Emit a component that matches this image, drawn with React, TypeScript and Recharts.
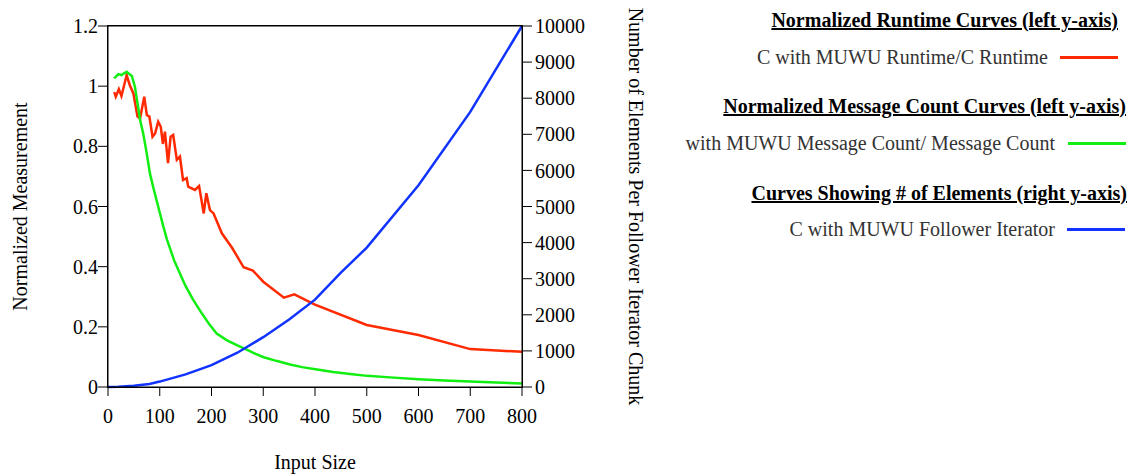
import { LineChart, Line, XAxis, YAxis } from "recharts"

const xTicks = [0, 100, 200, 300, 400, 500, 600, 700, 800]
const leftTicks = [0, 0.2, 0.4, 0.6, 0.8, 1, 1.2]
const rightTicks = [0, 1000, 2000, 3000, 4000, 5000, 6000, 7000, 8000, 9000, 10000]

// C with MUWU Runtime / C Runtime
const runtimeX = [12, 15, 21, 26, 36, 42, 49, 57, 62, 70, 75, 80, 86, 91, 97, 102, 106, 110, 116, 121, 126, 133, 139, 145, 152, 155, 168, 176, 185, 190, 197, 204, 220, 240, 262, 280, 300, 340, 360, 400, 500, 600, 700, 800]
const runtimeY = [0.98, 0.965, 0.99, 0.967, 1.037, 1.004, 0.976, 0.899, 0.893, 0.965, 0.904, 0.899, 0.832, 0.843, 0.882, 0.865, 0.808, 0.849, 0.744, 0.832, 0.838, 0.755, 0.766, 0.688, 0.694, 0.666, 0.655, 0.668, 0.577, 0.644, 0.588, 0.577, 0.511, 0.462, 0.398, 0.387, 0.35, 0.297, 0.308, 0.274, 0.206, 0.173, 0.126, 0.117]

// C with MUWU Message Count / Message Count
const msgX = [12, 20, 26, 36, 46, 52, 57, 62, 68, 75, 81, 88, 94, 100, 107, 114, 121, 128, 136, 150, 165, 180, 195, 210, 230, 250, 266, 285, 301, 325, 352, 375, 401, 435, 468, 501, 545, 600, 650, 700, 750, 800]
const msgY = [1.026, 1.04, 1.037, 1.048, 1.034, 0.998, 0.943, 0.888, 0.843, 0.775, 0.71, 0.66, 0.62, 0.58, 0.533, 0.49, 0.455, 0.42, 0.389, 0.335, 0.289, 0.248, 0.21, 0.178, 0.155, 0.138, 0.126, 0.11, 0.099, 0.087, 0.075, 0.066, 0.059, 0.05, 0.043, 0.037, 0.032, 0.026, 0.022, 0.018, 0.015, 0.012]

// C with MUWU Follower Iterator (elements per chunk)
const iterX = [0, 20, 50, 80, 100, 150, 200, 250, 300, 350, 400, 450, 500, 600, 700, 800]
const iterY = [0, 5, 35, 85, 150, 350, 605, 950, 1380, 1870, 2420, 3170, 3860, 5590, 7620, 10000]

const runtimeData = runtimeX.map((x, i) => ({ x, y: runtimeY[i] }))
const msgData = msgX.map((x, i) => ({ x, y: msgY[i] }))
const iterData = iterX.map((x, i) => ({ x, y: iterY[i] }))

const font = "'Liberation Serif', 'Times New Roman', serif"
const tickStyle = { fill: "#000", fontSize: 20, fontFamily: font }
const axisLine = { stroke: "#000", strokeWidth: 1 }
const tickLine = { stroke: "#000", strokeWidth: 1 }

const AxisTitle = (props: any) => {
  const { viewBox, text, offX = 0, offY = 0, rot = 0, horiz = false } = props
  const vb = viewBox || { x: 0, y: 0, width: 0, height: 0 }
  const x = horiz ? vb.x + vb.width / 2 : vb.x + offX
  const y = horiz ? vb.y + offY : vb.y + vb.height / 2
  return (
    <text
      x={x}
      y={y}
      transform={rot ? `rotate(${rot}, ${x}, ${y})` : undefined}
      textAnchor="middle"
      dominantBaseline="central"
      fill="#000"
      fontSize={20}
      fontFamily={font}
    >
      {text}
    </text>
  )
}

const Header = ({ text, right, top }: { text: string; right: number; top: number }) => (
  <div
    style={{
      position: "absolute",
      right,
      top,
      lineHeight: "20px",
      fontSize: 20,
      fontWeight: "bold",
      textDecoration: "underline",
      color: "#000",
      whiteSpace: "nowrap",
    }}
  >
    {text}
  </div>
)

const Entry = ({ text, color, textRight, lineLeft, lineRight, top }: any) => (
  <>
    <div
      style={{
        position: "absolute",
        right: 1137 - textRight,
        top,
        lineHeight: "20px",
        fontSize: 20,
        color: "#333",
        whiteSpace: "nowrap",
      }}
    >
      {text}
    </div>
    <div
      style={{
        position: "absolute",
        left: lineLeft,
        width: lineRight - lineLeft,
        top: top + 9,
        height: 3,
        background: color,
      }}
    />
  </>
)

export default function App() {
  return (
    <div style={{ position: "absolute", left: 0, top: 0, width: 1137, height: 476, background: "#fff", fontFamily: font, overflow: "hidden" }}>
      <LineChart width={1137} height={476} margin={{ top: 16, right: 545, bottom: 59, left: 48 }}>
        <XAxis
          xAxisId="bottom"
          type="number"
          dataKey="x"
          domain={[0, 800]}
          ticks={xTicks}
          height={30}
          tickSize={9}
          tickMargin={13}
          tick={tickStyle}
          axisLine={axisLine}
          tickLine={tickLine}
          label={<AxisTitle text="Input Size" horiz offY={75} />}
        />
        <XAxis
          xAxisId="top"
          orientation="top"
          type="number"
          dataKey="x"
          domain={[0, 800]}
          ticks={xTicks}
          height={10}
          tickSize={9}
          tickMargin={0}
          tickFormatter={() => ""}
          tick={tickStyle}
          axisLine={axisLine}
          tickLine={tickLine}
        />
        <YAxis
          yAxisId="left"
          domain={[0, 1.2]}
          ticks={leftTicks}
          width={60}
          tickSize={10}
          tickMargin={0}
          tick={tickStyle}
          axisLine={axisLine}
          tickLine={tickLine}
          label={<AxisTitle text="Normalized Measurement" offX={-28} rot={-90} />}
        />
        <YAxis
          yAxisId="right"
          orientation="right"
          domain={[0, 10000]}
          ticks={rightTicks}
          width={70}
          tickSize={10}
          tickMargin={3}
          tick={tickStyle}
          axisLine={axisLine}
          tickLine={tickLine}
          label={<AxisTitle text="Number of Elements Per Follower Iterator Chunk" offX={114} rot={90} />}
        />
        <Line
          xAxisId="bottom"
          yAxisId="left"
          data={runtimeData}
          dataKey="y"
          type="linear"
          stroke="#ff2a00"
          strokeWidth={2.5}
          dot={false}
          isAnimationActive={false}
        />
        <Line
          xAxisId="bottom"
          yAxisId="left"
          data={msgData}
          dataKey="y"
          type="linear"
          stroke="#11ee11"
          strokeWidth={2.5}
          dot={false}
          isAnimationActive={false}
        />
        <Line
          xAxisId="bottom"
          yAxisId="right"
          data={iterData}
          dataKey="y"
          type="linear"
          stroke="#1133ff"
          strokeWidth={2.5}
          dot={false}
          isAnimationActive={false}
        />
      </LineChart>

      {/* plot border */}
      <div
        style={{
          position: "absolute",
          left: 107,
          top: 25,
          width: 414,
          height: 361,
          border: "1px solid #000",
          pointerEvents: "none",
        }}
      />

      <Header text="Normalized Runtime Curves (left y-axis)" right={1137 - 1118} top={10} />
      <Entry text="C with MUWU Runtime/C Runtime" color="#ff2a00" textRight={1048} lineLeft={1060} lineRight={1118} top={47} />
      <Header text="Normalized Message Count Curves (left y-axis)" right={1137 - 1126} top={96} />
      <Entry text="with MUWU Message Count/ Message Count" color="#11ee11" textRight={1055} lineLeft={1068} lineRight={1126} top={133} />
      <Header text="Curves Showing # of Elements (right y-axis)" right={1137 - 1127} top={183} />
      <Entry text="C with MUWU Follower Iterator" color="#1133ff" textRight={1055} lineLeft={1067} lineRight={1125} top={219} />
    </div>
  )
}
